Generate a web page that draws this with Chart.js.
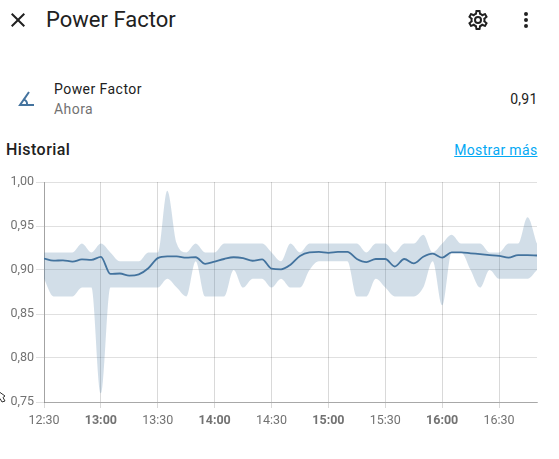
<!DOCTYPE html>
<html>
<head>
<meta charset="utf-8">
<script src="https://cdn.jsdelivr.net/npm/chart.js@4"></script>
<style>
  html, body { margin: 0; padding: 0; background: #fff; overflow: hidden; }
  body { width: 559px; height: 459px; position: relative; font-family: Roboto, sans-serif; color: #212121; }
  .t { position: absolute; white-space: nowrap; line-height: 20px; }
  svg { position: absolute; fill: #212121; }
  #wrap { position: absolute; left: 0; top: 170px; width: 559px; height: 260px; }
  #chart { display: block; }
</style>
</head>
<body>
<svg style="left:6px;top:8px" width="24" height="24" viewBox="0 0 24 24"><path d="M19,6.41L17.59,5L12,10.59L6.41,5L5,6.41L10.59,12L5,17.59L6.41,19L12,13.41L17.59,19L19,17.59L13.41,12L19,6.41Z"/></svg>
<div class="t" style="left:46px;top:9px;font-size:22px;line-height:22px">Power Factor</div>
<svg style="left:466px;top:8px" width="24" height="24" viewBox="0 0 24 24"><path d="M12,8A4,4 0 0,1 16,12A4,4 0 0,1 12,16A4,4 0 0,1 8,12A4,4 0 0,1 12,8M12,10A2,2 0 0,0 10,12A2,2 0 0,0 12,14A2,2 0 0,0 14,12A2,2 0 0,0 12,10M10,22C9.75,22 9.54,21.82 9.5,21.58L9.13,18.93C8.5,18.68 7.96,18.34 7.44,17.94L4.95,18.95C4.73,19.03 4.46,18.95 4.34,18.73L2.34,15.27C2.21,15.05 2.27,14.78 2.46,14.63L4.57,12.97L4.5,12L4.57,11L2.46,9.37C2.27,9.22 2.21,8.95 2.34,8.73L4.34,5.27C4.46,5.05 4.73,4.96 4.95,5.05L7.44,6.05C7.96,5.66 8.5,5.32 9.13,5.07L9.5,2.42C9.54,2.18 9.75,2 10,2H14C14.25,2 14.46,2.18 14.5,2.42L14.87,5.07C15.5,5.32 16.04,5.66 16.56,6.05L19.05,5.05C19.27,4.96 19.54,5.05 19.66,5.27L21.66,8.73C21.79,8.95 21.73,9.22 21.54,9.37L19.43,11L19.5,12L19.43,13L21.54,14.63C21.73,14.78 21.79,15.05 21.66,15.27L19.66,18.73C19.54,18.95 19.27,19.04 19.05,18.95L16.56,17.95C16.04,18.34 15.5,18.68 14.87,18.93L14.5,21.58C14.46,21.82 14.25,22 14,22H10M11.25,4L10.88,6.61C9.68,6.86 8.62,7.5 7.85,8.39L5.44,7.35L4.69,8.65L6.8,10.2C6.4,11.37 6.4,12.64 6.8,13.8L4.68,15.36L5.43,16.66L7.86,15.62C8.63,16.5 9.68,17.14 10.87,17.38L11.24,20H12.76L13.13,17.39C14.32,17.14 15.37,16.5 16.14,15.62L18.57,16.66L19.32,15.36L17.2,13.81C17.6,12.64 17.6,11.37 17.2,10.2L19.31,8.65L18.56,7.35L16.15,8.39C15.38,7.5 14.32,6.86 13.12,6.62L12.75,4H11.25Z"/></svg>
<svg style="left:514px;top:8px" width="24" height="24" viewBox="0 0 24 24"><path d="M12,16A2,2 0 0,1 14,18A2,2 0 0,1 12,20A2,2 0 0,1 10,18A2,2 0 0,1 12,16M12,10A2,2 0 0,1 14,12A2,2 0 0,1 12,14A2,2 0 0,1 10,12A2,2 0 0,1 12,10M12,4A2,2 0 0,1 14,6A2,2 0 0,1 12,8A2,2 0 0,1 10,6A2,2 0 0,1 12,4Z"/></svg>

<svg style="left:14px;top:87px;fill:#44739e" width="24" height="24" viewBox="0 0 24 24"><path d="M20,19H4.09L14.18,4.43L15.82,5.57L11.28,12.13C12.89,12.96 14,14.62 14,16.54C14,16.7 14,16.85 13.97,17H20V19M7.91,17H11.96C12,16.85 12,16.7 12,16.54C12,15.28 11.24,14.22 10.14,13.78L7.91,17Z"/></svg>
<div class="t" style="left:54px;top:79px;font-size:14px;letter-spacing:.45px">Power Factor</div>
<div class="t" style="left:54px;top:99px;font-size:14px;letter-spacing:.45px;color:#727272">Ahora</div>
<div class="t" style="right:21.5px;top:89px;font-size:14px;letter-spacing:.25px">0,91</div>
<div class="t" style="left:6px;top:140px;font-size:16px;font-weight:500;letter-spacing:.45px">Historial</div>
<div class="t" style="right:21.5px;top:140px;font-size:14px;letter-spacing:.35px;color:#03a9f4;text-decoration:underline">Mostrar más</div>

<!-- mouse pointer caught in the screenshot, bottom left -->
<svg style="left:0;top:390px;fill:#fff" width="7" height="13" viewBox="0 0 7 13"><path d="M-2,1L5,6L3,7.5L5,11L2,12L0,8.5L-2,10Z" stroke="#333" stroke-width="1"/></svg>

<div id="wrap"><canvas id="chart" width="559" height="260"></canvas></div>

<script>
const minutes = [0,5,10,15,20,25,30,35,40,45,50,55,60,65,70,75,80,85,90,95,100,105,110,115,120,125,130,135,140,145,150,155,160,165,170,175,180,185,190,195,200,205,210,215,220,225,230,235,240,245,250,255,260];

const means = [.913,.9106,.911,.9095,.912,.9115,.915,.8955,.896,.8935,.895,.902,.9135,.9155,.9155,.914,.9145,.907,.9095,.9125,.9145,.9135,.9105,.912,.9015,.9008,.906,.916,.92,.9205,.9195,.9205,.9205,.9125,.909,.9125,.9125,.904,.9125,.9075,.915,.9185,.914,.92,.92,.919,.918,.917,.916,.914,.917,.917,.9165];

const mins = [.89,.87,.87,.87,.88,.88,.76,.88,.88,.88,.88,.88,.88,.89,.88,.87,.91,.87,.87,.87,.90,.88,.89,.89,.88,.89,.88,.88,.90,.91,.91,.91,.91,.87,.87,.89,.88,.87,.87,.87,.88,.91,.86,.92,.92,.90,.88,.90,.89,.89,.89,.89,.90];

const maxs = [.92,.92,.92,.92,.93,.92,.93,.92,.91,.91,.91,.92,.92,.99,.93,.92,.93,.92,.92,.93,.93,.93,.93,.93,.92,.91,.93,.92,.93,.93,.93,.93,.93,.93,.92,.93,.93,.92,.93,.93,.94,.92,.93,.94,.93,.93,.93,.92,.92,.93,.93,.96,.93];

const xTickLabels = ["12:30","13:00","13:30","14:00","14:30","15:00","15:30","16:00","16:30"];
const yTickLabels = ["0,75","0,80","0,85","0,90","0,95","1,00"];

const lineColor = "#44739e";
const bandColor = "rgba(68, 115, 158, 0.24)";

function points(values) {
    return values.map((v, i) => ({ x: minutes[i], y: v }));
}

new Chart(document.getElementById("chart"), {
    type: "line",
    data: {
        datasets: [
            { label: "min", data: points(mins), borderWidth: 0, pointRadius: 0, fill: false, cubicInterpolationMode: "monotone" },
            { label: "max", data: points(maxs), borderWidth: 0, pointRadius: 0, fill: "-1", backgroundColor: bandColor, cubicInterpolationMode: "monotone" },
            { label: "Power Factor", data: points(means), borderColor: lineColor, borderWidth: 1.8, pointRadius: 0, fill: false, cubicInterpolationMode: "monotone" },
        ],
    },
    options: {
        responsive: false,
        animation: false,
        layout: { padding: { top: 12, right: 22, left: 0, bottom: 0 } },
        plugins: { legend: { display: false }, tooltip: { enabled: false } },
        scales: {
            x: {
                type: "linear",
                min: 0,
                max: 260,
                afterFit: (axis) => { axis.height = 28; },
                afterBuildTicks: (axis) => {
                    axis.ticks = xTickLabels.map((l, i) => ({ value: i * 30 }));
                },
                grid: { color: "rgba(0,0,0,0.15)", tickLength: 6 },
                border: { color: "rgba(0,0,0,0.25)" },
                ticks: {
                    color: "#727272",
                    padding: 5,
                    maxRotation: 0,
                    autoSkip: false,
                    callback: (value) => xTickLabels[value / 30],
                    font: (ctx) => ({ family: "Roboto", size: 12.5, weight: ctx.tick && ctx.tick.value % 60 === 30 ? "bold" : "normal" }),
                },
            },
            y: {
                min: 0.75,
                max: 1,
                afterFit: (axis) => { axis.width = 44; },
                afterBuildTicks: (axis) => {
                    axis.ticks = yTickLabels.map((l, i) => ({ value: 0.75 + i * 0.05 }));
                },
                grid: { color: "rgba(0,0,0,0.12)", tickLength: 8 },
                border: { color: "rgba(0,0,0,0.25)" },
                ticks: {
                    color: "#727272",
                    padding: 2,
                    autoSkip: false,
                    callback: (value) => yTickLabels[Math.round((value - 0.75) / 0.05)],
                    font: { family: "Roboto", size: 12.5 },
                },
            },
        },
    },
});
</script>
</body>
</html>
